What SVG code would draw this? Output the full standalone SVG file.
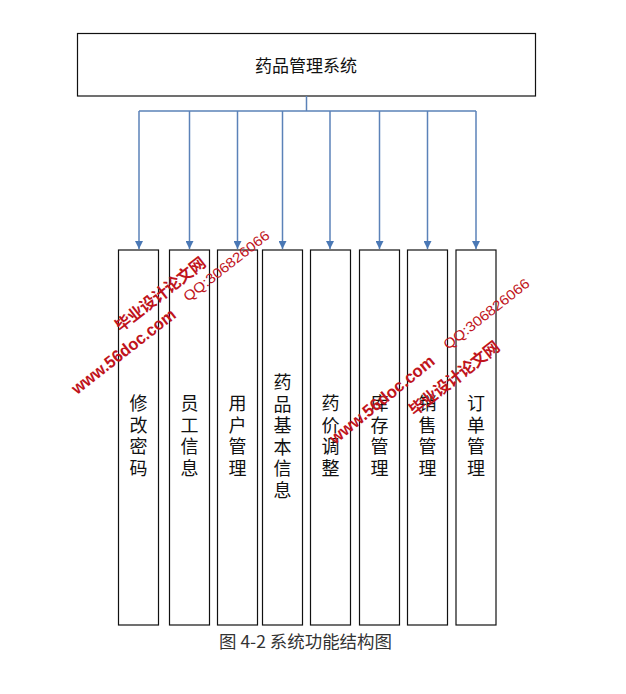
<svg xmlns="http://www.w3.org/2000/svg" width="626" height="694" viewBox="0 0 626 694">
<style>
.box{fill:#fff;stroke:#111;stroke-width:1.2}
.lbl{font-family:"Noto Sans CJK SC","Noto Sans",sans-serif;font-size:18px;fill:#111;text-anchor:middle}
.conn{fill:none;stroke:#5b82b8;stroke-width:1.5}
.wm{fill:#c0141c;font-family:"Liberation Sans","Noto Sans CJK SC",sans-serif}
</style>
<defs>
<marker id="arr" viewBox="0 0 10 10" refX="10" refY="5" markerWidth="8" markerHeight="8" markerUnits="userSpaceOnUse" orient="auto">
<path d="M0,0 L10,5 L0,10 z" fill="#4a78b5"/>
</marker>
</defs>
<rect width="626" height="694" fill="#fff"/>
<g id="root">
<rect class="box" x="77.5" y="33.5" width="458" height="62.5"/>
<text x="306" y="71.5" class="lbl" style="font-size:17px">药品管理系统</text>
</g>
<g id="connectors">
<path class="conn" d="M306.5,96 V111 M139,111 H476"/>
<path class="conn" marker-end="url(#arr)" d="M139,111 V249"/>
<path class="conn" marker-end="url(#arr)" d="M189.5,111 V249"/>
<path class="conn" marker-end="url(#arr)" d="M237.5,111 V249"/>
<path class="conn" marker-end="url(#arr)" d="M282.5,111 V249"/>
<path class="conn" marker-end="url(#arr)" d="M330,111 V249"/>
<path class="conn" marker-end="url(#arr)" d="M379.5,111 V249"/>
<path class="conn" marker-end="url(#arr)" d="M427.5,111 V249"/>
<path class="conn" marker-end="url(#arr)" d="M476,111 V249"/>
</g>
<g id="n1">
<rect class="box" x="118.5" y="250" width="40" height="375"/>
<text class="lbl"><tspan x="138.5" y="410">修</tspan><tspan x="138.5" y="431.5">改</tspan><tspan x="138.5" y="453">密</tspan><tspan x="138.5" y="474.5">码</tspan></text>
</g>
<g id="n2">
<rect class="box" x="169.5" y="250" width="40" height="375"/>
<text class="lbl"><tspan x="189.5" y="410">员</tspan><tspan x="189.5" y="431.5">工</tspan><tspan x="189.5" y="453">信</tspan><tspan x="189.5" y="474.5">息</tspan></text>
</g>
<g id="n3">
<rect class="box" x="217.5" y="250" width="40" height="375"/>
<text class="lbl"><tspan x="237.5" y="410">用</tspan><tspan x="237.5" y="431.5">户</tspan><tspan x="237.5" y="453">管</tspan><tspan x="237.5" y="474.5">理</tspan></text>
</g>
<g id="n4">
<rect class="box" x="262.5" y="250" width="40" height="375"/>
<text class="lbl"><tspan x="282.5" y="389">药</tspan><tspan x="282.5" y="410.5">品</tspan><tspan x="282.5" y="432">基</tspan><tspan x="282.5" y="453.5">本</tspan><tspan x="282.5" y="475">信</tspan><tspan x="282.5" y="496.5">息</tspan></text>
</g>
<g id="n5">
<rect class="box" x="310.5" y="250" width="40" height="375"/>
<text class="lbl"><tspan x="330.5" y="410">药</tspan><tspan x="330.5" y="431.5">价</tspan><tspan x="330.5" y="453">调</tspan><tspan x="330.5" y="474.5">整</tspan></text>
</g>
<g id="n6">
<rect class="box" x="359.5" y="250" width="40" height="375"/>
<text class="lbl"><tspan x="379.5" y="410">库</tspan><tspan x="379.5" y="431.5">存</tspan><tspan x="379.5" y="453">管</tspan><tspan x="379.5" y="474.5">理</tspan></text>
</g>
<g id="n7">
<rect class="box" x="407.5" y="250" width="40" height="375"/>
<text class="lbl"><tspan x="427.5" y="410">销</tspan><tspan x="427.5" y="431.5">售</tspan><tspan x="427.5" y="453">管</tspan><tspan x="427.5" y="474.5">理</tspan></text>
</g>
<g id="n8">
<rect class="box" x="456" y="250" width="40" height="375"/>
<text class="lbl"><tspan x="476" y="410">订</tspan><tspan x="476" y="431.5">单</tspan><tspan x="476" y="453">管</tspan><tspan x="476" y="474.5">理</tspan></text>
</g>
<text x="219" y="648" font-family="'Noto Sans CJK SC',sans-serif" font-size="17" fill="#333" textLength="173" lengthAdjust="spacingAndGlyphs">图 4-2 系统功能结构图</text>
<g id="watermark1" class="wm">
<text x="120.4" y="332.6" font-size="16" font-weight="bold" textLength="110" transform="rotate(-38 120.4 332.6)" font-family="'Noto Sans CJK SC',sans-serif">毕业设计论文网</text>
<text x="77" y="395" font-size="17" font-weight="bold" textLength="127" lengthAdjust="spacingAndGlyphs" transform="rotate(-38 77 395)">www.56doc.com</text>
<text x="188" y="302" font-size="14" textLength="105" lengthAdjust="spacingAndGlyphs" transform="rotate(-38 188 302)">QQ:306826066</text>
</g>
<g id="watermark2" class="wm">
<text x="414.4" y="416.6" font-size="16" font-weight="bold" textLength="110" transform="rotate(-38 414.4 416.6)" font-family="'Noto Sans CJK SC',sans-serif">毕业设计论文网</text>
<text x="335" y="445" font-size="17" font-weight="bold" textLength="130" lengthAdjust="spacingAndGlyphs" transform="rotate(-39 335 445)">www.56doc.com</text>
<text x="448" y="350" font-size="14" textLength="105" lengthAdjust="spacingAndGlyphs" transform="rotate(-38 448 350)">QQ:306826066</text>
</g>
</svg>
